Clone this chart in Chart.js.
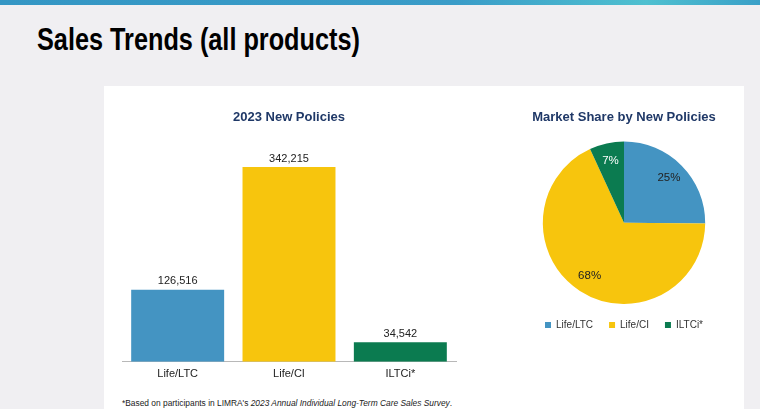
<!DOCTYPE html>
<html>
<head>
<meta charset="utf-8">
<script src="https://cdn.jsdelivr.net/npm/chart.js@4"></script>
<style>
  html, body { margin: 0; padding: 0; }
  body { width: 760px; height: 409px; background: #f0eff2; position: relative; overflow: hidden; font-family: "Liberation Sans", Arial, sans-serif; }
  #topbar { position: absolute; left: 0; top: 0; width: 760px; height: 5px; background: linear-gradient(90deg, #3496c4 0%, #3a9cc8 60%, #4fc0d0 85%, #3aa0c8 100%); }
  #title { position: absolute; left: 37px; top: 24px; font-family: "Liberation Sans", Arial, sans-serif; font-weight: bold; font-size: 31px; line-height: 1; color: #000; transform: scaleX(0.815); transform-origin: left top; white-space: nowrap; }
  #panel { position: absolute; left: 104px; top: 86px; width: 640px; height: 323px; background: #fff; }
  #barWrap { position: absolute; left: 104px; top: 100px; width: 370px; height: 287px; }
  #pieWrap { position: absolute; left: 504px; top: 100px; width: 240px; height: 240px; }
  #note { position: absolute; left: 122px; top: 398px; font-size: 8.4px; color: #222; white-space: nowrap; }
</style>
</head>
<body>
<div id="topbar"></div>
<div id="title">Sales Trends (all products)</div>
<div id="panel"></div>
<div id="barWrap"><canvas id="barChart"></canvas></div>
<div id="pieWrap"><canvas id="pieChart"></canvas></div>
<div id="note">*Based on participants in LIMRA's <i>2023 Annual Individual Long-Term Care Sales Survey</i>.</div>
<script>
const categories = ["Life/LTC", "Life/CI", "ILTCi*"];
const newPolicies = [126516, 342215, 34542];
const colors = ["#4494c2", "#f7c50d", "#0b7b50"];
const pieLabelColors = ["#222222", "#222222", "#ffffff"];

const navy = "#1f3867";

// value labels drawn above bars / inside slices
const valueLabels = {
  id: "valueLabels",
  afterDatasetsDraw(chart) {
    const ctx = chart.ctx;
    const meta = chart.getDatasetMeta(0);
    const data = chart.data.datasets[0].data;
    ctx.save();
    ctx.textAlign = "center";
    if (chart.config.type === "bar") {
      ctx.font = "11px 'Liberation Sans', Arial, sans-serif";
      ctx.fillStyle = "#222";
      ctx.textBaseline = "bottom";
      meta.data.forEach((bar, i) => {
        ctx.fillText(data[i].toLocaleString("en-US"), bar.x, bar.y - 3);
      });
    } else {
      ctx.font = "11.5px 'Liberation Sans', Arial, sans-serif";
      const total = data.reduce((a, b) => a + b, 0);
      ctx.textBaseline = "middle";
      meta.data.forEach((arc, i) => {
        const mid = (arc.startAngle + arc.endAngle) / 2;
        const r = arc.outerRadius * 0.78;
        ctx.fillStyle = pieLabelColors[i];
        ctx.fillText(Math.round(data[i] / total * 100) + "%", arc.x + Math.cos(mid) * r, arc.y + Math.sin(mid) * r);
      });
    }
    ctx.restore();
  }
};

new Chart(document.getElementById("barChart"), {
  type: "bar",
  data: {
    labels: categories,
    datasets: [{
      data: newPolicies,
      backgroundColor: colors,
      barPercentage: 0.835,
      categoryPercentage: 1
    }]
  },
  options: {
    responsive: true,
    maintainAspectRatio: false,
    animation: false,
    layout: { padding: { left: 18, right: 18 } },
    plugins: {
      legend: { display: false },
      tooltip: { enabled: false },
      title: {
        display: true,
        text: "2023 New Policies",
        color: navy,
        font: { family: "'Liberation Sans', Arial, sans-serif", size: 13, weight: "bold" },
        padding: { top: 10, bottom: 20 }
      }
    },
    scales: {
      x: {
        grid: { display: false, drawTicks: false },
        border: { color: "#b8b8b8", width: 1 },
        ticks: { color: "#222", font: { family: "'Liberation Sans', Arial, sans-serif", size: 11 }, padding: 6 }
      },
      y: { display: false, min: 0, max: 380000 }
    }
  },
  plugins: [valueLabels]
});

new Chart(document.getElementById("pieChart"), {
  type: "pie",
  data: {
    labels: categories,
    datasets: [{
      data: newPolicies,
      backgroundColor: colors,
      borderWidth: 0
    }]
  },
  options: {
    responsive: true,
    maintainAspectRatio: false,
    animation: false,
    plugins: {
      tooltip: { enabled: false },
      title: {
        display: true,
        text: "Market Share by New Policies",
        color: navy,
        font: { family: "'Liberation Sans', Arial, sans-serif", size: 13, weight: "bold" },
        padding: { top: 10, bottom: 16 }
      },
      legend: {
        position: "bottom",
        labels: {
          boxWidth: 6,
          boxHeight: 6,
          color: "#333",
          padding: 16,
          font: { family: "'Liberation Sans', Arial, sans-serif", size: 10 }
        }
      }
    }
  },
  plugins: [valueLabels]
});
</script>
</body>
</html>
